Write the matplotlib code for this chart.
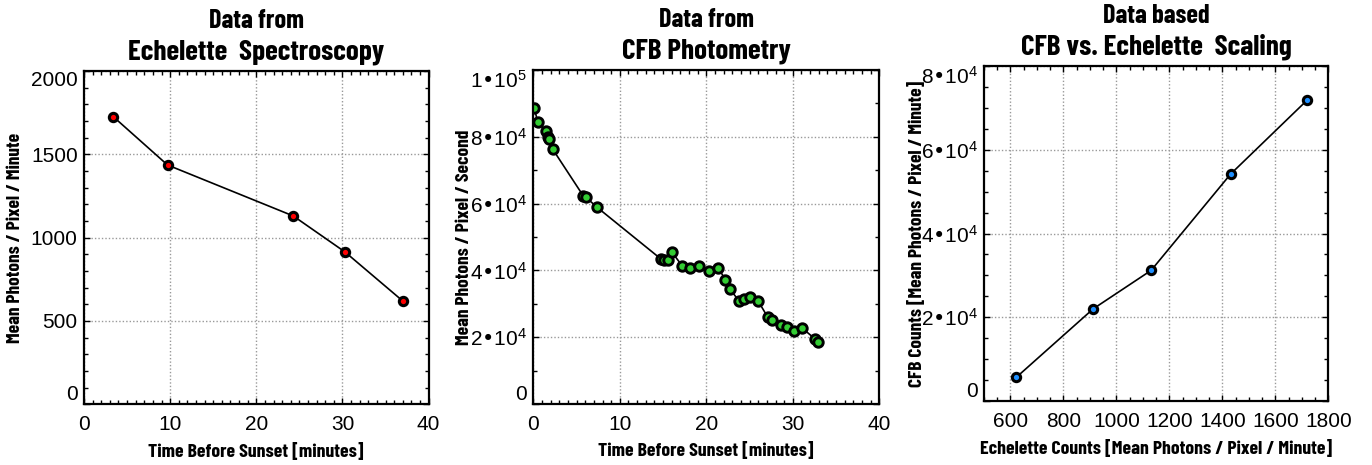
import matplotlib
matplotlib.use('Agg')
import matplotlib.pyplot as plt
from matplotlib.ticker import MultipleLocator, FuncFormatter

# Echelette spectroscopy: time before sunset [min] vs photons / pixel / minute
ech_time = [3.4, 9.7, 24.3, 30.3, 37.0]
ech_counts = [1726, 1436, 1130, 914, 620]

# CFB photometry: time before sunset [min] vs photons / pixel / second
cfb_time = [0.12, 0.5, 1.43, 1.66, 1.85, 2.24, 5.78, 6.09, 7.32, 14.76, 15.14,
            15.6, 15.99, 17.2, 18.1, 19.2, 20.3, 21.4, 22.2, 22.7, 23.8, 24.4,
            25.1, 26.0, 27.1, 27.6, 28.6, 29.3, 30.1, 31.1, 32.6, 32.9]
cfb_counts = [88600, 84500, 81700, 80000, 79200, 76300, 62300, 61900, 59000,
              43400, 43000, 43000, 45600, 41400, 40800, 41200, 39900, 40800,
              37100, 34500, 30800, 31400, 32100, 30800, 26000, 25100, 23700,
              23000, 21800, 22700, 19400, 18500]

# CFB vs echelette scaling
scale_ech = [622, 912, 1131, 1431, 1719]
scale_cfb = [5660, 22000, 31200, 54200, 71800]

plt.rcParams['mathtext.default'] = 'regular'
plt.rcParams['font.family'] = ['Liberation Sans', 'DejaVu Sans']

LAB = dict(family=['Barlow Condensed', 'Liberation Sans', 'DejaVu Sans'],
           weight='bold')


def sci(v, pos):
    if v == 0:
        return '0'
    exp = 0
    m = v
    while abs(m) >= 10:
        m /= 10.0
        exp += 1
    return '%d\u202210$^{%d}$' % (round(m), exp)


def style(ax):
    for s in ax.spines.values():
        s.set_linewidth(1.6)
    ax.tick_params(which='both', direction='in', top=True, right=True,
                   labelsize=15, width=1)
    ax.tick_params(which='major', length=4)
    ax.tick_params(which='minor', length=3)
    ax.tick_params(axis='x', which='major', pad=8)
    ax.tick_params(axis='y', which='major', pad=4.5)
    ax.grid(True, which='major', linestyle=(0, (1, 1.5)), color='#999999',
            linewidth=1)
    ax.set_axisbelow(True)


def labels(ax, xl, yl, top, main, ylx=-0.2):
    ax.set_xlabel(xl, fontsize=14.2, **LAB)
    ax.xaxis.set_label_coords(0.5, -0.157)
    ax.xaxis.label.set_va('baseline')
    ax.set_ylabel(yl, fontsize=14, **LAB)
    ax.yaxis.set_label_coords(ylx, 0.5)
    ax.yaxis.label.set_va('center')
    ax.text(0.5, 0.128 + 1, top, transform=ax.transAxes, ha='center',
            va='baseline', fontsize=19, **LAB)
    ax.text(0.5, 0.035 + 1, main, transform=ax.transAxes, ha='center',
            va='baseline', fontsize=21, **LAB)


fig = plt.figure(figsize=(13.72, 4.65), dpi=100)

ax1 = fig.add_axes([0.0612, 0.1305, 0.2512, 0.7168])
ax1.plot(ech_time, ech_counts, color='black', lw=1.2, marker='o', ms=6,
         mfc='#ff0000', mec='black', mew=2.2)
ax1.set_xlim(0, 40)
ax1.set_ylim(0, 2000)
ax1.xaxis.set_major_locator(MultipleLocator(10))
ax1.xaxis.set_minor_locator(MultipleLocator(1))
ax1.yaxis.set_major_locator(MultipleLocator(500))
ax1.yaxis.set_minor_locator(MultipleLocator(100))
style(ax1)
labels(ax1, 'Time Before Sunset [minutes]', 'Mean Photons / Pixel / Minute',
       'Data from', 'Echelette  Spectroscopy')

ax2 = fig.add_axes([0.3887, 0.1312, 0.2522, 0.7183])
ax2.plot(cfb_time, cfb_counts, color='black', lw=1.2, marker='o', ms=6.8,
         mfc='#33cc33', mec='black', mew=2.1)
ax2.set_xlim(0, 40)
ax2.set_ylim(0, 100000)
ax2.xaxis.set_major_locator(MultipleLocator(10))
ax2.xaxis.set_minor_locator(MultipleLocator(1))
ax2.yaxis.set_major_locator(MultipleLocator(20000))
ax2.yaxis.set_minor_locator(MultipleLocator(10000))
ax2.yaxis.set_major_formatter(FuncFormatter(sci))
style(ax2)
labels(ax2, 'Time Before Sunset [minutes]', 'Mean Photons / Pixel / Second',
       'Data from', 'CFB Photometry')

ax3 = fig.add_axes([0.7172, 0.1376, 0.2510, 0.7204])
ax3.plot(scale_ech, scale_cfb, color='black', lw=1.2, marker='o', ms=6,
         mfc='#1e8fff', mec='black', mew=2.2)
ax3.set_xlim(500, 1800)
ax3.set_ylim(0, 80000)
ax3.xaxis.set_major_locator(MultipleLocator(200))
ax3.xaxis.set_minor_locator(MultipleLocator(50))
ax3.yaxis.set_major_locator(MultipleLocator(20000))
ax3.yaxis.set_minor_locator(MultipleLocator(5000))
ax3.yaxis.set_major_formatter(FuncFormatter(sci))
style(ax3)
labels(ax3, 'Echelette Counts [Mean Photons / Pixel / Minute]',
       'CFB Counts [Mean Photons / Pixel / Minute]',
       'Data based', 'CFB vs. Echelette  Scaling', ylx=-0.195)

# end labels on the y axis sit inside the axis range, like the original
fig.canvas.draw()
for ax in (ax1, ax2, ax3):
    lo, hi = ax.get_ylim()
    for t in ax.yaxis.get_major_ticks():
        loc = t.get_loc()
        if abs(loc - lo) < 1e-6 * (hi - lo):
            t.label1.set_va('bottom')
        elif abs(loc - hi) < 1e-6 * (hi - lo):
            t.label1.set_va('top')

fig.savefig('out.png', dpi=100)
